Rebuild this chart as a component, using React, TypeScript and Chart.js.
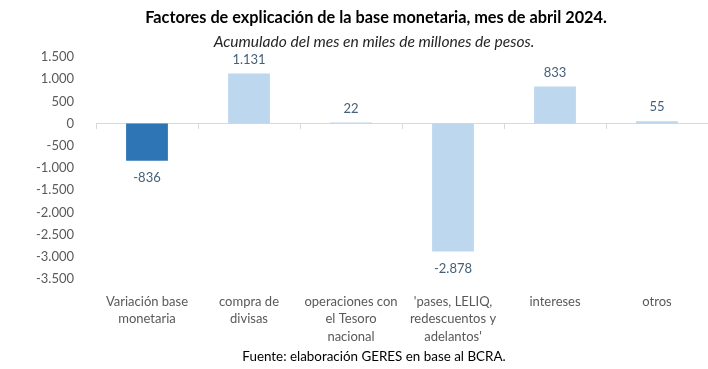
import { useEffect, useRef } from 'react';
import { Chart, registerables } from 'chart.js';

Chart.register(...registerables);

const categories: string[][] = [
  ['Variación base', 'monetaria'],
  ['compra de', 'divisas'],
  ['operaciones con', 'el Tesoro', 'nacional'],
  ["'pases, LELIQ,", 'redescuentos y', "adelantos'"],
  ['intereses'],
  ['otros'],
];
const values: number[] = [-836, 1131, 22, -2878, 833, 55];
const barColors: string[] = ['#2E75B6', '#BDD7EE', '#BDD7EE', '#BDD7EE', '#BDD7EE', '#BDD7EE'];
const yMin = -3500;
const yMax = 1500;
const yStep = 500;
const titleText = 'Factores de explicación de la base monetaria, mes de abril 2024.';
const subtitleText = 'Acumulado del mes en miles de millones de pesos.';
const sourceText = 'Fuente: elaboración GERES en base al BCRA.';

const FONT = 'Lato, "Open Sans", sans-serif';

function fmt(n: number): string {
  const s = Math.round(Math.abs(n)).toString().replace(/\B(?=(\d{3})+(?!\d))/g, '.');
  return (n < 0 ? '-' : '') + s;
}

const valueLabels = {
  id: 'valueLabels',
  afterDatasetsDraw(chart: any) {
    const ctx = chart.ctx;
    const meta = chart.getDatasetMeta(0);
    const data = chart.data.datasets[0].data as number[];
    ctx.save();
    ctx.font = `13px ${FONT}`;
    ctx.fillStyle = '#44607A';
    ctx.textAlign = 'center';
    ctx.textBaseline = 'middle';
    meta.data.forEach((el: any, i: number) => {
      const v = data[i];
      const y = v >= 0 ? el.y - 14 : el.y + 17;
      ctx.fillText(fmt(v), el.x, y);
    });
    ctx.restore();
  },
};

const texts = {
  id: 'texts',
  afterDraw(chart: any) {
    const ctx = chart.ctx;
    ctx.save();
    ctx.textAlign = 'center';
    ctx.textBaseline = 'middle';
    ctx.fillStyle = '#000000';
    ctx.font = `bold 16.3px ${FONT}`;
    ctx.fillText(titleText, 376, 18);
    ctx.fillStyle = '#262626';
    ctx.font = `italic 15.6px ${FONT}`;
    ctx.fillText(subtitleText, 374, 42);
    ctx.fillStyle = '#000000';
    ctx.font = `13.4px ${FONT}`;
    ctx.fillText(sourceText, 374, 357);
    ctx.restore();
  },
};

export default function App() {
  const ref = useRef<HTMLCanvasElement | null>(null);
  useEffect(() => {
    if (!ref.current) return;
    const chart = new Chart(ref.current, {
      type: 'bar',
      data: {
        labels: categories,
        datasets: [
          {
            data: values,
            backgroundColor: barColors,
            borderWidth: 0,
            categoryPercentage: 0.82,
            barPercentage: 0.5,
          },
        ],
      },
      options: {
        animation: false,
        responsive: false,
        devicePixelRatio: 1,
        layout: { padding: { top: 57, right: -6, left: 0, bottom: 0 } },
        plugins: {
          legend: { display: false },
          tooltip: { enabled: false },
          title: { display: false },
        },
        scales: {
          x: {
            type: 'category',
            position: 'bottom',
            grid: { display: false },
            border: { display: false },
            ticks: {
              color: '#595959',
              font: { family: FONT, size: 13, lineHeight: '17.5px' as any },
              padding: 6,
              maxRotation: 0,
              autoSkip: false,
            },
            afterFit(scale: any) {
              scale.height = 90;
            },
          },
          x2: {
            type: 'category',
            axis: 'x',
            position: { y: 0 } as any,
            offset: true,
            grid: {
              offset: true,
              drawOnChartArea: false,
              drawTicks: true,
              tickLength: 5,
              color: '#D9D9D9',
            },
            border: { display: true, color: '#D9D9D9', width: 1 },
            ticks: { display: false },
          },
          y: {
            min: yMin,
            max: yMax,
            grid: { display: false },
            border: { display: false },
            ticks: {
              stepSize: yStep,
              color: '#595959',
              font: { family: FONT, size: 13 },
              padding: 14,
              callback: (v: any) => fmt(Number(v)),
            },
            afterFit(scale: any) {
              scale.width = 96;
            },
          },
        },
      },
      plugins: [valueLabels, texts],
    });
    return () => chart.destroy();
  }, []);
  return (
    <div style={{ position: 'absolute', left: 0, top: 0, width: 708, height: 369, background: '#fff' }}>
      <canvas ref={ref} width={708} height={369} style={{ display: 'block', width: 708, height: 369 }} />
    </div>
  );
}
